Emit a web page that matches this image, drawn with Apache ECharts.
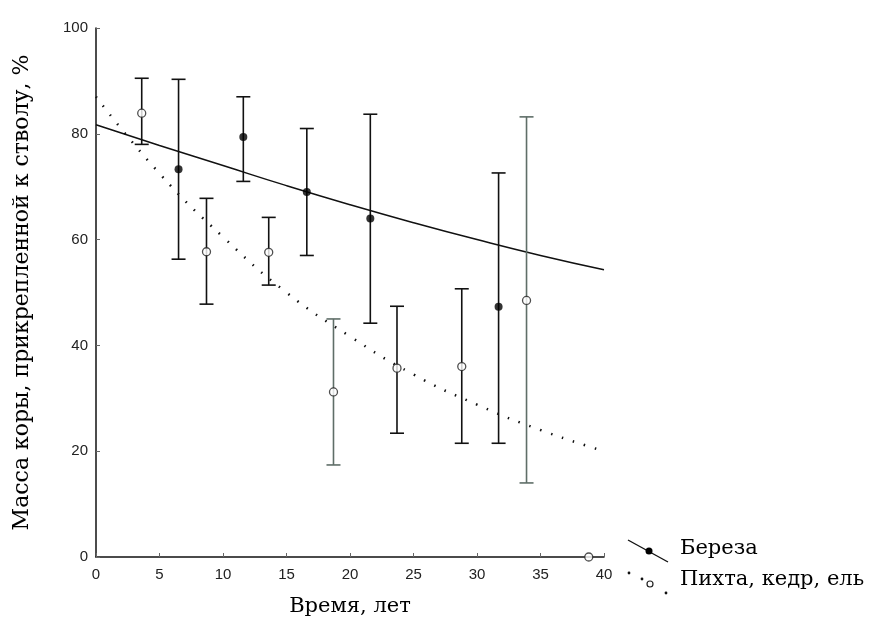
<!doctype html>
<html>
<head>
  <meta charset="UTF-8" />
  <title>Масса коры</title>
  <script src="https://cdn.jsdelivr.net/npm/echarts@6/dist/echarts.min.js"></script>
  <style>
    html, body { margin: 0; padding: 0; background: #fff; }
    #chart { width: 872px; height: 628px; }
  </style>
</head>
<body>
  <div id="chart"></div>
  <script>
    // береза: среднее и разброс
    const birchX = [6.5, 11.6, 16.6, 21.6, 31.7];
    const birchMean = [73.3, 79.4, 69, 64, 47.3];
    const birchLow = [56.3, 71, 57, 44.2, 21.5];
    const birchHigh = [90.3, 87, 81, 83.7, 72.6];

    // пихта, кедр, ель
    const firX = [3.6, 8.7, 13.6, 18.7, 23.7, 28.8, 33.9, 38.8];
    const firMean = [83.9, 57.7, 57.6, 31.2, 35.7, 36, 48.5, 0];
    const firLow = [78, 47.8, 51.4, 17.4, 23.4, 21.5, 14, null];
    const firHigh = [90.5, 67.8, 64.2, 45, 47.4, 50.7, 83.2, null];
    const firBarGray = [false, false, false, true, false, false, true, false];

    // линии тренда
    const trendX = [0, 5, 10, 15, 20, 25, 30, 35, 40];
    const birchTrend = [81.7, 77.8, 74, 70.2, 66.6, 63.2, 60, 57, 54.3];
    const firTrend = [87, 72.5, 60.5, 50, 41.7, 34.5, 28.8, 24, 20];

    const xTicks = [0, 5, 10, 15, 20, 25, 30, 35, 40];
    const yTicks = [0, 20, 40, 60, 80, 100];

    const zip = (xs, ys) => xs.map((x, i) => [x, ys[i]]);

    function errBars(xs, lo, hi, gray) {
      return xs.map((x, i) => [x, lo[i], hi[i], gray && gray[i] ? 1 : 0])
        .filter(d => d[1] != null);
    }

    function renderBar(params, api) {
      const x = api.value(0);
      const lo = api.coord([x, api.value(1)]);
      const hi = api.coord([x, api.value(2)]);
      const color = api.value(3) ? '#5f6e68' : '#111';
      const cap = 7;
      const style = { stroke: color, lineWidth: 1.6, fill: null };
      return {
        type: 'group',
        children: [
          { type: 'line', shape: { x1: lo[0], y1: lo[1], x2: hi[0], y2: hi[1] }, style },
          { type: 'line', shape: { x1: lo[0] - cap, y1: lo[1], x2: lo[0] + cap, y2: lo[1] }, style },
          { type: 'line', shape: { x1: hi[0] - cap, y1: hi[1], x2: hi[0] + cap, y2: hi[1] }, style }
        ]
      };
    }

    const chart = echarts.init(document.getElementById('chart'));
    const serif = '"DejaVu Serif", "Liberation Serif", serif';
    const sans = '"Liberation Sans", Arial, sans-serif';

    chart.setOption({
      animation: false,
      backgroundColor: '#fff',
      grid: { left: 96, top: 28, right: 268, bottom: 71 },
      xAxis: {
        type: 'value', min: xTicks[0], max: xTicks[xTicks.length - 1], interval: 5,
        name: 'Время, лет', nameLocation: 'middle', nameGap: 39,
        nameTextStyle: { fontFamily: serif, fontSize: 21, color: '#000' },
        axisLine: { lineStyle: { color: '#111', width: 1.5 } },
        axisTick: { inside: true, length: 4, lineStyle: { color: '#666' } },
        axisLabel: { fontFamily: sans, fontSize: 15, color: '#222', margin: 10 },
        splitLine: { show: false }
      },
      yAxis: {
        type: 'value', min: yTicks[0], max: yTicks[yTicks.length - 1], interval: 20,
        name: 'Масса коры, прикрепленной к стволу, %', nameLocation: 'middle', nameGap: 63,
        nameTextStyle: { fontFamily: serif, fontSize: 22, color: '#000' },
        axisLine: { show: true, lineStyle: { color: '#111', width: 1.5 } },
        axisTick: { show: true, inside: true, length: 4, lineStyle: { color: '#666' } },
        axisLabel: { fontFamily: sans, fontSize: 15, color: '#222', margin: 8 },
        splitLine: { show: false }
      },
      series: [
        {
          name: 'trendBirch', type: 'line', data: zip(trendX, birchTrend), smooth: true,
          showSymbol: false, lineStyle: { color: '#111', width: 1.5 }, z: 2
        },
        {
          name: 'trendFir', type: 'line', data: zip(trendX, firTrend), smooth: true,
          showSymbol: false, lineStyle: { color: '#111', width: 2.5, type: [1.5, 10] }, z: 2
        },
        {
          name: 'barsBirch', type: 'custom', renderItem: renderBar,
          data: errBars(birchX, birchLow, birchHigh, null), z: 3
        },
        {
          name: 'barsFir', type: 'custom', renderItem: renderBar,
          data: errBars(firX, firLow, firHigh, firBarGray), z: 3
        },
        {
          name: 'Береза', type: 'scatter', data: zip(birchX, birchMean), symbol: 'circle',
          symbolSize: 8, itemStyle: { color: '#000' }, z: 5
        },
        {
          name: 'Пихта, кедр, ель', type: 'scatter', data: zip(firX, firMean), symbol: 'circle',
          symbolSize: 8, itemStyle: { color: '#fff', borderColor: '#222', borderWidth: 1.3 }, z: 5
        }
      ],
      graphic: [
        { type: 'line', shape: { x1: 628, y1: 540, x2: 668, y2: 562 }, style: { stroke: '#111', lineWidth: 1.4 } },
        { type: 'circle', shape: { cx: 649, cy: 551, r: 3.5 }, style: { fill: '#000' } },
        { type: 'text', left: 680, top: 538, style: { text: 'Береза', font: '21px ' + serif, fill: '#000' } },
        { type: 'circle', shape: { cx: 629, cy: 573, r: 1.4 }, style: { fill: '#111' } },
        { type: 'circle', shape: { cx: 642, cy: 579, r: 1.4 }, style: { fill: '#111' } },
        { type: 'circle', shape: { cx: 650, cy: 584, r: 3 }, style: { fill: '#fff', stroke: '#222', lineWidth: 1.2 } },
        { type: 'circle', shape: { cx: 666, cy: 593, r: 1.4 }, style: { fill: '#111' } },
        { type: 'text', left: 680, top: 569, style: { text: 'Пихта, кедр, ель', font: '21px ' + serif, fill: '#000' } }
      ]
    });
  </script>
</body>
</html>
